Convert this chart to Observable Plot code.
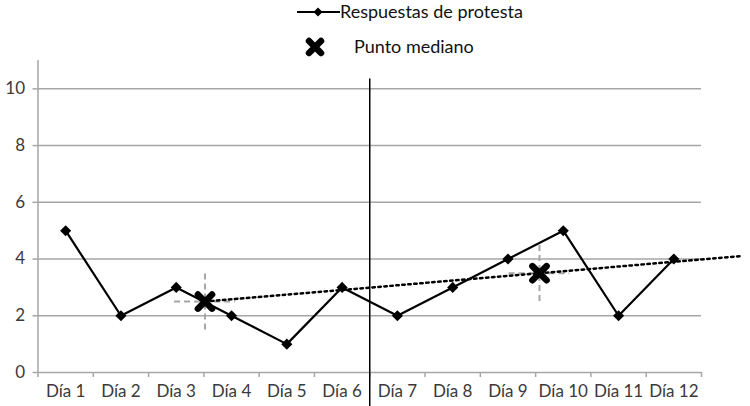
<!DOCTYPE html>
<html>
<head>
<meta charset="utf-8">
<script src="https://cdn.jsdelivr.net/npm/d3@7"></script>
<script src="https://cdn.jsdelivr.net/npm/@observablehq/plot@0.6"></script>
<style>
  body { margin: 0; background: #fff; font-family: Lato, "Open Sans", sans-serif; }
  #wrap { position: relative; width: 750px; height: 406px; }
  #legend { position: relative; width: 750px; height: 56px; }
  .lg { position: absolute; font-size: 18px; color: #111; white-space: nowrap; }
  #chart svg { display: block; }
</style>
</head>
<body>
<div id="wrap">
  <div id="legend">
    <svg style="position:absolute;left:296px;top:4px" width="46" height="16">
      <line x1="1" y1="8" x2="44" y2="8" stroke="#000" stroke-width="2"/>
      <path d="M22,3.5 L26.5,8 L22,12.5 L17.5,8 Z" fill="#000"/>
    </svg>
    <div class="lg" style="left:340px;top:0px">Respuestas de protesta</div>
    <svg style="position:absolute;left:303px;top:35px" width="24" height="24">
      <path d="M6,6 L18,18 M18,6 L6,18" stroke="#000" stroke-width="6.5" stroke-linecap="round"/>
    </svg>
    <div class="lg" style="left:354px;top:35px">Punto mediano</div>
  </div>
  <div id="chart"></div>
</div>
<script>
const days = ["Día 1","Día 2","Día 3","Día 4","Día 5","Día 6","Día 7","Día 8","Día 9","Día 10","Día 11","Día 12"];
const respuestas = [5, 2, 3, 2, 1, 3, 2, 3, 4, 5, 2, 4];
const medianX = [3.52, 9.57];
const medianY = [2.5, 3.5];
const phaseChange = 6.5;
const yTicks = [0, 2, 4, 6, 8, 10];
const trendEndX = 13.2;

const series = days.map((d, i) => ({x: i + 1, y: respuestas[i], label: d}));
const medians = medianX.map((x, i) => ({x, y: medianY[i]}));
const slope = (medianY[1] - medianY[0]) / (medianX[1] - medianX[0]);
const trend = [
  {x: medianX[0], y: medianY[0]},
  {x: trendEndX, y: medianY[0] + slope * (trendEndX - medianX[0])}
];
const boundaries = d3.range(0, days.length + 1).map(i => i + 0.5);
const gray = "#a6a6a6";

const chart = Plot.plot({
  width: 750,
  height: 350,
  marginTop: 4,
  marginBottom: 34,
  marginLeft: 37.5,
  marginRight: 49,
  style: {fontFamily: "Lato, 'Open Sans', sans-serif", fontSize: "17px", color: "#3a3a3a", background: "#fff"},
  x: {type: "linear", domain: [0.5, 12.5]},
  y: {domain: [0, 11]},
  marks: [
    Plot.ruleY(yTicks.filter(d => d > 0), {x1: 0.5, x2: 12.5, stroke: gray, strokeWidth: 1.5}),
    Plot.ruleY([0], {x1: 0.5, x2: 12.5, stroke: gray, strokeWidth: 1.5}),
    Plot.ruleX([0.5], {y1: 0, y2: 11, stroke: gray, strokeWidth: 1.5}),
    Plot.axisY({ticks: yTicks, tickSize: 5, tickPadding: 8, stroke: gray, strokeWidth: 1.5, fill: "#3a3a3a", fontSize: 17, label: null}),
    Plot.axisX({ticks: boundaries, tickSize: 5, tickFormat: () => "", stroke: gray, strokeWidth: 1.5, label: null}),
    Plot.axisX({ticks: d3.range(1, 13), tickSize: 0, tickPadding: 12, tickFormat: i => days[i - 1], fill: "#3a3a3a", fontSize: 17, label: null}),
    // crosshairs at medians
    Plot.ruleY(medians, {y: "y", x1: d => d.x - 0.55, x2: d => d.x + 0.55, stroke: gray, strokeWidth: 2, strokeDasharray: "6,4"}),
    Plot.ruleX(medians, {x: "x", y1: d => d.y - 1, y2: d => d.y + 1, stroke: gray, strokeWidth: 2, strokeDasharray: "6,4"}),
    // trend
    Plot.line(trend, {x: "x", y: "y", stroke: "#000", strokeWidth: 2.5, strokeDasharray: "2.5,3.5"}),
    // phase change line
    Plot.ruleX([phaseChange], {y1: -1.3, y2: 10.35, stroke: "#000", strokeWidth: 1.5}),
    // series
    Plot.line(series, {x: "x", y: "y", stroke: "#000", strokeWidth: 2.2}),
    Plot.dot(series, {x: "x", y: "y", symbol: "diamond2", fill: "#000", stroke: "none", r: 5}),
    Plot.dot(medians, {x: "x", y: "y", symbol: "times", stroke: "#000", strokeWidth: 6.5, r: 6.5, strokeLinecap: "round"})
  ]
});
document.getElementById("chart").appendChild(chart);
</script>
</body>
</html>
